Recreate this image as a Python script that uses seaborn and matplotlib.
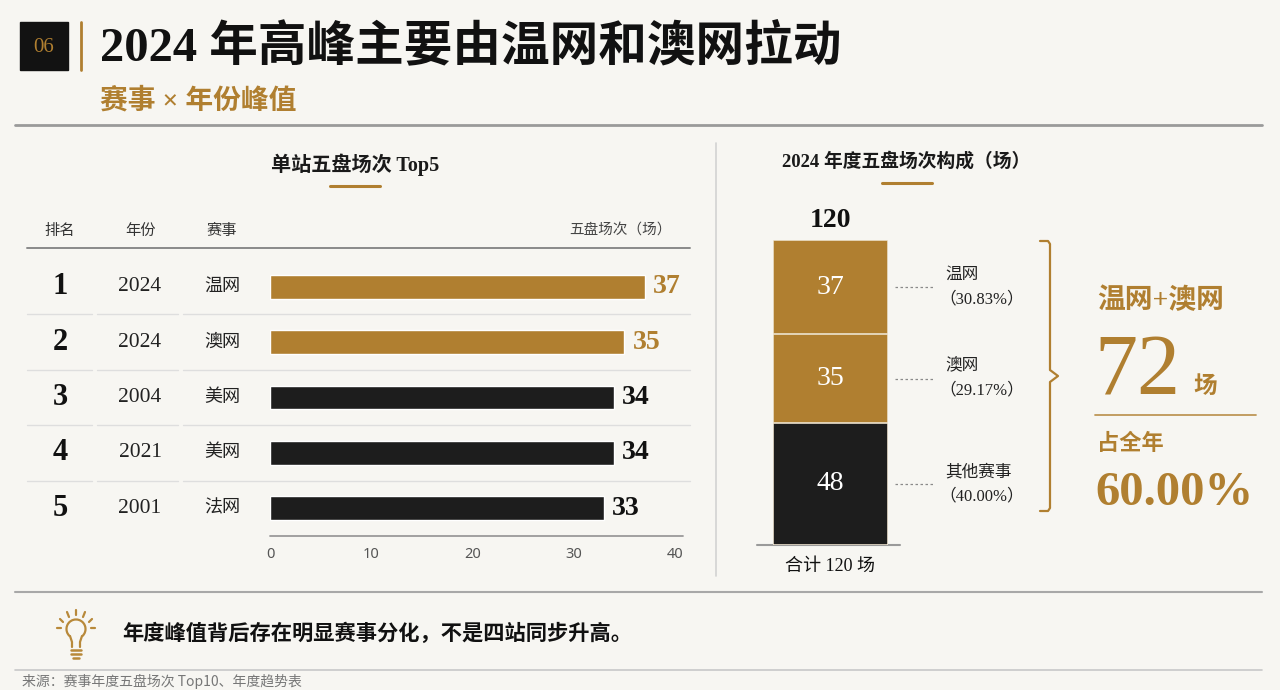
import matplotlib
matplotlib.use("Agg")
import matplotlib.pyplot as plt
import matplotlib.transforms as mtransforms
from matplotlib.patches import Rectangle, Arc
import seaborn as sns
import pandas as pd

# ---------------- data ----------------
ranks = ["1", "2", "3", "4", "5"]
years = ["2024", "2024", "2004", "2021", "2001"]
events = ["温网", "澳网", "美网", "美网", "法网"]
five_set_counts = [37, 35, 34, 34, 33]
highlight = [True, True, False, False, False]
x_ticks = [0, 10, 20, 30, 40]

seg_names = ["温网", "澳网", "其他赛事"]          # top -> bottom
seg_values = [37, 35, 48]
seg_gold = [True, True, False]

title = "2024 年高峰主要由温网和澳网拉动"
subtitle = "赛事 × 年份峰值"
left_title = "单站五盘场次 Top5"
right_title = "2024 年度五盘场次构成（场）"
col_headers = ["排名", "年份", "赛事"]
value_header = "五盘场次（场）"
insight = "年度峰值背后存在明显赛事分化，不是四站同步升高。"
source = "来源：赛事年度五盘场次 Top10、年度趋势表"

# ---------------- style ----------------
BG = "#F7F6F2"
GOLD = "#B07F30"
BLACK = "#1D1D1D"
SERIF = ["Liberation Serif", "Noto Sans CJK SC"]
CJK = ["Noto Sans CJK SC", "DejaVu Sans"]

sns.set_theme(style="white")
plt.rcParams["font.family"] = CJK
plt.rcParams["axes.unicode_minus"] = False

W, H = 1280, 690
fig = plt.figure(figsize=(W / 100, H / 100), dpi=100, facecolor=BG)


def rect(x0, y0, x1, y1):
    return [x0 / W, 1 - y1 / H, (x1 - x0) / W, (y1 - y0) / H]


# overlay in pixel coordinates (y downwards)
ov = fig.add_axes([0, 0, 1, 1])
ov.set_xlim(0, W)
ov.set_ylim(H, 0)
ov.axis("off")
ov.set_facecolor(BG)

# header
ov.add_patch(Rectangle((20, 22), 48, 48, color="#121212"))
ov.text(44, 47, "06", color=GOLD, fontsize=15, family=SERIF, ha="center", va="center")
ov.plot([81, 81], [22, 70], color=GOLD, lw=2)
ov.text(100, 47, title, fontsize=35, fontweight="bold", family=SERIF,
        color="#111111", ha="left", va="center")
ov.text(100, 101, subtitle, fontsize=20, family=SERIF, color=GOLD,
        ha="left", va="center", fontweight="bold")
ov.plot([15, 1262], [125, 125], color="#9A9A9A", lw=2)

# panel titles
ov.text(355, 165, left_title, fontsize=14.5, fontweight="bold", family=SERIF,
        color="#1a1a1a", ha="center", va="center")
ov.plot([330, 380], [186, 186], color=GOLD, lw=2.2)
ov.text(906, 161, right_title, fontsize=13.5, fontweight="bold", family=SERIF,
        color="#1a1a1a", ha="center", va="center")
ov.plot([882, 932], [183, 183], color=GOLD, lw=2.2)

# divider
ov.plot([716, 716], [143, 576], color="#D2D2D2", lw=1.2)

# left table headers
for txt, x in zip(col_headers, [60, 140, 222]):
    ov.text(x, 230, txt, fontsize=11, color="#333333", ha="center", va="center")
ov.text(672, 230, value_header, fontsize=10.5, color="#444444", ha="right", va="center")
ov.plot([27, 690], [248, 248], color="#8A8A8A", lw=1.4)

# ---------------- left bar chart ----------------
df = pd.DataFrame({"rank": ranks, "value": five_set_counts,
                   "color": [GOLD if h else BLACK for h in highlight]})
ax1 = fig.add_axes(rect(270, 259, 675, 536))
ax1.set_facecolor("none")
sns.barplot(data=df, x="value", y="rank", hue="rank", order=ranks,
            palette=dict(zip(df["rank"], df["color"])), orient="h",
            width=0.43, ax=ax1, legend=False, saturation=1)
ax1.set_xlim(0, 40)
ax1.set_ylim(4.5, -0.5)
for s in ax1.spines.values():
    s.set_visible(False)
ax1.set_xlabel("")
ax1.set_ylabel("")
ax1.set_yticks([])
ax1.set_xticks(x_ticks)
ax1.set_xticklabels([str(t) for t in x_ticks], fontsize=10.5, color="#555555",
                    family=["Noto Sans", "DejaVu Sans"])
ax1.tick_params(axis="x", length=0, pad=8)
ov.plot([270, 683], [536, 536], color="#9A9A9A", lw=1.3)

blend1 = mtransforms.blended_transform_factory(ov.transData, ax1.transData)
for i, (r, y, e, v, h) in enumerate(zip(ranks, years, events, five_set_counts, highlight)):
    ax1.text(60, i, r, transform=blend1, fontsize=22, fontweight="bold", family=SERIF,
             color="#111111", ha="center", va="center")
    ax1.text(140, i, y, transform=blend1, fontsize=15.5, family=SERIF,
             color="#222222", ha="center", va="center")
    ax1.text(222, i, e, transform=blend1, fontsize=13, family=SERIF,
             color="#222222", ha="center", va="center")
    ax1.text(v + 0.8, i, str(v), fontsize=20, family=SERIF, fontweight="bold",
             color=GOLD if h else "#111111", ha="left", va="center")
for i in range(len(ranks) - 1):
    for x0, x1 in [(27, 92), (97, 178), (183, 690)]:
        ax1.plot([x0, x1], [i + 0.5, i + 0.5], transform=blend1, color="#DEDEDE",
                 lw=1.0, clip_on=False)

# ---------------- right stacked bar ----------------
ax2 = fig.add_axes(rect(773, 240, 888, 545))
ax2.set_facecolor("none")
total = sum(seg_values)
bottoms = {}
cum = 0
for name, val in zip(reversed(seg_names), reversed(seg_values)):
    bottoms[name] = cum
    cum += val
tops = {n: bottoms[n] + v for n, v in zip(seg_names, seg_values)}
for name, val, g in sorted(zip(seg_names, seg_values, seg_gold),
                           key=lambda t: -tops[t[0]]):
    sns.barplot(x=["2024"], y=[tops[name]], color=GOLD if g else BLACK,
                width=1.0, ax=ax2, saturation=1, edgecolor="#EDE3CF", linewidth=1.2)
ax2.set_xlim(-0.5, 0.5)
ax2.set_ylim(0, total)
ax2.axis("off")

ax2.annotate(str(total), xy=(0, total), xytext=(0, 14), textcoords="offset points",
             fontsize=20, fontweight="bold", family=SERIF, color="#111111",
             ha="center", va="center", annotation_clip=False)
blend2 = mtransforms.blended_transform_factory(ov.transData, ax2.transData)
for name, val in zip(seg_names, seg_values):
    mid = bottoms[name] + val / 2
    ax2.text(0, mid, str(val), fontsize=20, family=SERIF, color="white",
             ha="center", va="center")
    ax2.plot([895, 935], [mid, mid], transform=blend2, color="#8A8A8A",
             lw=0.9, ls=(0, (2, 2)), clip_on=False)
    ax2.annotate(name, xy=(945, mid), xycoords=blend2, xytext=(0, 8.6),
                 textcoords="offset points", fontsize=12, family=SERIF,
                 color="#222222", ha="left", va="center", annotation_clip=False)
    ax2.annotate(f"（{val / total * 100:.2f}%）", xy=(939, mid), xycoords=blend2,
                 xytext=(0, -8.6), textcoords="offset points", fontsize=12,
                 family=SERIF, color="#222222", ha="left", va="center",
                 annotation_clip=False)
ov.plot([757, 900], [545, 545], color="#9A9A9A", lw=1.5)
ov.text(830, 566, f"合计 {total} 场", fontsize=13, family=SERIF, color="#111111",
        ha="center", va="center")

# brace
bx, btop, bbot, bmid = 1050, 241, 511, 376
ov.plot([1040, bx - 2, bx, bx, bx + 8, bx, bx, bx - 2, 1040],
        [btop, btop, btop + 3, bmid - 6, bmid, bmid + 6, bbot - 3, bbot, bbot],
        color=GOLD, lw=1.6, solid_joinstyle="round")

# key figures
gold_sum = sum(v for v, g in zip(seg_values, seg_gold) if g)
ov.text(1097, 301, "温网+澳网", fontsize=20, fontweight="bold", family=SERIF,
        color=GOLD, ha="left", va="center")
ov.text(1094, 374, str(gold_sum), fontsize=62, family=SERIF, color=GOLD,
        ha="left", va="center")
ov.text(1193, 386, "场", fontsize=17, fontweight="bold", color=GOLD,
        ha="left", va="center")
ov.plot([1095, 1256], [415, 415], color=GOLD, lw=1.3, alpha=0.8)
ov.text(1097, 443, "占全年", fontsize=16, fontweight="bold", color=GOLD,
        ha="left", va="center")
ov.text(1095, 493, f"{gold_sum / total * 100:.2f}%", fontsize=35, fontweight="bold",
        family=SERIF, color=GOLD, ha="left", va="center")

# bottom insight
ov.plot([15, 1262], [592, 592], color="#A8A8A8", lw=1.5)
ov.plot([15, 1262], [670, 670], color="#C8C8C8", lw=1.2)
IC = "#B8893A"
ov.add_patch(Arc((76, 629), 19, 19, theta1=130, theta2=50, color=IC, lw=1.6))
ov.plot([70, 72, 72], [636, 642, 647], color=IC, lw=1.6)
ov.plot([82, 80, 80], [636, 642, 647], color=IC, lw=1.6)
for yy, hw in [(650, 5), (654, 5), (658, 3)]:
    ov.plot([76 - hw, 76 + hw], [yy, yy], color=IC, lw=1.8)
for (x0, y0, x1, y1) in [(76, 610, 76, 615), (67, 612, 69, 617), (85, 612, 83, 617),
                         (60, 619, 63, 622), (92, 619, 89, 622), (57, 628, 61, 628),
                         (95, 628, 91, 628)]:
    ov.plot([x0, x1], [y0, y1], color=IC, lw=1.6)
ov.text(122, 634, insight, fontsize=15.3, fontweight="bold", family=SERIF,
        color="#111111", ha="left", va="center")
ov.text(22, 681, source, fontsize=10, color="#777777", ha="left", va="center")

fig.savefig("out.png", dpi=100, facecolor=BG)
